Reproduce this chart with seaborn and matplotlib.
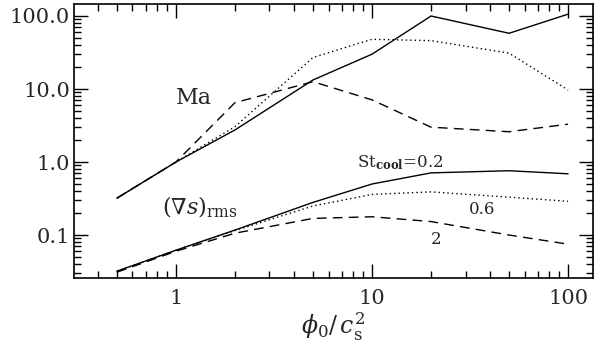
import numpy as np
import pandas as pd
import matplotlib
matplotlib.use("Agg")
import matplotlib.pyplot as plt
import seaborn as sns
from matplotlib.ticker import FixedLocator, FuncFormatter, LogLocator, NullFormatter

# data
phi = [0.5, 1, 2, 5, 10, 20, 50, 100]
ma_02 = [0.32, 1.0, 2.75, 13.3, 30, 100, 58, 106]
ma_06 = [0.32, 1.0, 3.05, 27, 48, 46, 31, 9.7]
ma_2 = [0.32, 1.0, 6.5, 12.6, 7.1, 3.0, 2.6, 3.3]
gs_02 = [0.032, 0.062, 0.117, 0.28, 0.50, 0.71, 0.76, 0.69]
gs_06 = [0.032, 0.062, 0.115, 0.25, 0.36, 0.39, 0.33, 0.29]
gs_2 = [0.031, 0.060, 0.106, 0.169, 0.178, 0.153, 0.10, 0.075]
x_ticks = [1, 10, 100]
x_tick_labels = ["1", "10", "100"]
y_ticks = [0.1, 1.0, 10.0, 100.0]

sns.set_style("ticks")
plt.rcParams['font.family'] = ['DejaVu Serif']
plt.rcParams['mathtext.fontset'] = 'dejavuserif'

fig = plt.figure(figsize=(6, 3.5), dpi=100)
ax = fig.add_axes([74/600, 1-278/350, (593-74)/600, (278-4)/350])

series = [(ma_02, '-'), (ma_06, ':'), (ma_2, '--'),
          (gs_02, '-'), (gs_06, ':'), (gs_2, '--')]
for vals, ls in series:
    df = pd.DataFrame({'phi': phi, 'v': vals})
    sns.lineplot(data=df, x='phi', y='v', ax=ax, color='black',
                 linewidth=1.0, estimator=None, sort=False)
    line = ax.lines[-1]
    if ls == ':':
        line.set_dashes([1.0, 2.2])
    elif ls == '--':
        line.set_dashes([7, 4.5])

ax.set_xscale('log')
ax.set_yscale('log')
ax.set_xlim(0.302, 134)
ax.set_ylim(0.0258, 146)

ax.xaxis.set_major_locator(FixedLocator(x_ticks))
ax.xaxis.set_major_formatter(FuncFormatter(
    lambda v, p: x_tick_labels[x_ticks.index(v)] if v in x_ticks else ""))
ax.xaxis.set_minor_locator(LogLocator(base=10, subs=np.arange(2, 10)))
ax.xaxis.set_minor_formatter(NullFormatter())
ax.yaxis.set_major_locator(FixedLocator(y_ticks))
ax.yaxis.set_major_formatter(FuncFormatter(lambda v, p: "%.1f" % v))
ax.yaxis.set_minor_locator(LogLocator(base=10, subs=np.arange(2, 10)))
ax.yaxis.set_minor_formatter(NullFormatter())

ax.tick_params(which='both', direction='in', top=True, right=True, color='black', width=1.0)
ax.tick_params(which='major', length=10, labelsize=15, pad=8)
ax.tick_params(which='minor', length=5)
ax.tick_params(axis='y', which='major', pad=3)
for s in ax.spines.values():
    s.set_linewidth(1.2)
    s.set_color('black')

ax.set_xlabel(r'$\phi_0/\,c_{\rm s}^2$', fontsize=17, labelpad=2)
ax.set_ylabel('')

fig.text(194/600, 1-98/350, 'Ma', fontsize=16, ha='center', va='center')
fig.text(200/600, 1-207/350, r'$(\nabla s)_{\rm rms}$', fontsize=16, ha='center', va='center')
fig.text(400/600, 1-163/350, r'St$_{\bf cool}$=0.2', fontsize=12, ha='center', va='center')
fig.text(482/600, 1-209/350, '0.6', fontsize=12, ha='center', va='center')
fig.text(436/600, 1-240/350, '2', fontsize=12, ha='center', va='center')

fig.savefig('out.png', dpi=100)
